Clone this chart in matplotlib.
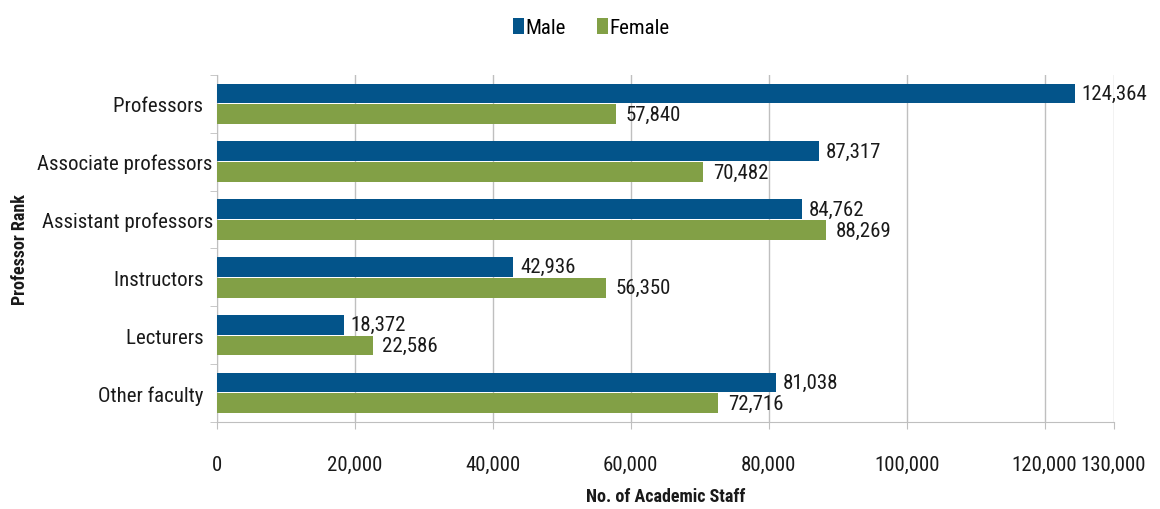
import matplotlib
matplotlib.use("Agg")
import matplotlib.pyplot as plt
from matplotlib import font_manager
import numpy as np

categories = ["Professors  ", "Associate professors", "Assistant professors", "Instructors  ", "Lecturers  ", "Other faculty  "]
male = [124364, 87317, 84762, 42936, 18372, 81038]
female = [57840, 70482, 88269, 56350, 22586, 72716]
xticks = [0, 20000, 40000, 60000, 80000, 100000, 120000, 130000]

entries = font_manager.fontManager.ttflist
names = {f.name for f in entries}
stretch = "normal"
fam = None
for cand in ["Liberation Sans Narrow", "Roboto Condensed", "Open Sans Condensed", "Noto Sans Condensed",
             "Arial Narrow", "DejaVu Sans Condensed"]:
    if cand in names:
        fam = cand
        break
if fam is None:
    cond = [f for f in entries if str(f.stretch) in ("condensed", "semi-condensed", "75", "87.5")]
    pref = [f for f in cond if f.name in ("Liberation Sans", "Roboto", "Noto Sans", "Open Sans", "DejaVu Sans")]
    if pref:
        fam = pref[0].name
        stretch = "condensed"
    else:
        fam = "Roboto" if "Roboto" in names else "DejaVu Sans"
plt.rcParams["font.family"] = [fam, "DejaVu Sans"]
plt.rcParams["font.stretch"] = stretch

c_male = "#03548A"
c_female = "#82A046"
grid_c = "#BFBFBF"
txt = "#1a1a1a"

fig = plt.figure(figsize=(11.6, 5.1), dpi=100)
ax = fig.add_axes([0.187, 0.171, 0.773, 0.680])

y = np.arange(len(categories))
h = 0.345
off = 0.18
bm = ax.barh(y - off, male, height=h, color=c_male, label="Male", zorder=3)
bf = ax.barh(y + off, female, height=h, color=c_female, label="Female", zorder=3)

fs = 15
for b, v in zip(bm, male):
    ax.annotate(f"{v:,}", (b.get_width(), b.get_y() + b.get_height() / 2), xytext=(5, 0),
                textcoords="offset points", va="center", ha="left", fontsize=fs, color=txt, zorder=4)
for b, v in zip(bf, female):
    ax.annotate(f"{v:,}", (b.get_width(), b.get_y() + b.get_height() / 2), xytext=(7, 0),
                textcoords="offset points", va="center", ha="left", fontsize=fs, color=txt, zorder=4)

ax.set_xlim(0, 130000)
ax.set_ylim(len(categories) - 0.5, -0.5)
ax.set_xticks(xticks)
ax.set_xticklabels([f"{t:,}" for t in xticks], fontsize=fs, color=txt)
ax.set_yticks(y)
ax.set_yticklabels(categories, fontsize=fs, color=txt)
ax.tick_params(axis="y", length=0, pad=3)
ax.tick_params(axis="x", length=5, color=grid_c, pad=19)
ax.set_yticks(np.arange(len(categories) + 1) - 0.5, minor=True)
ax.tick_params(axis="y", which="minor", length=5, color=grid_c)

ax.grid(axis="x", color=grid_c, linewidth=1, zorder=0)
for s in ["top", "right"]:
    ax.spines[s].set_visible(False)
for s in ["left", "bottom"]:
    ax.spines[s].set_color(grid_c)

ax.set_xlabel("No. of Academic Staff", fontsize=13, fontweight="bold", labelpad=9, color=txt)
ax.set_ylabel("Professor Rank", fontsize=13, fontweight="bold", labelpad=6, color=txt)

fig.legend(handles=[bm, bf], labels=["Male", "Female"], loc="upper center", bbox_to_anchor=(0.51, 1.0),
           ncol=2, frameon=False, fontsize=fs, handlelength=0.5, handleheight=0.8,
           handletextpad=0.1, columnspacing=1.5)

fig.savefig("out.png", dpi=100)
